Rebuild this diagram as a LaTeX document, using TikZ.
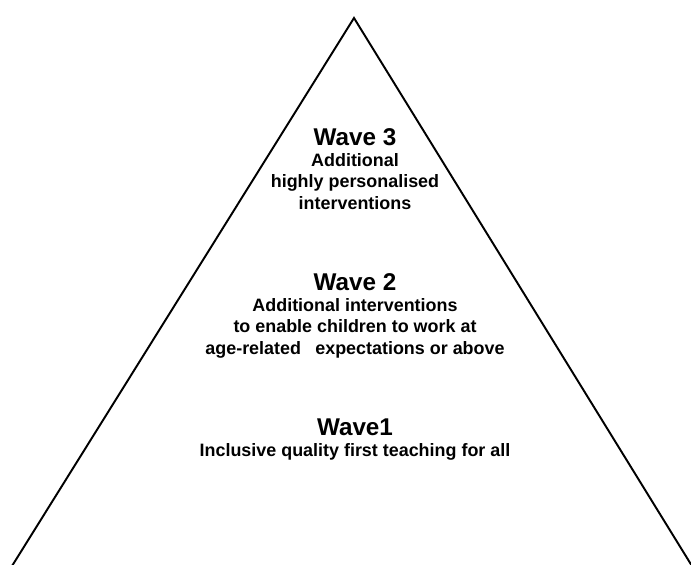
\documentclass[tikz,border=0pt]{standalone}
\usepackage{fontspec}
\setmainfont{Liberation Sans}
\usetikzlibrary{positioning}

\begin{document}
\begin{tikzpicture}[
    x=0.02cm, y=-0.02cm,
    node distance=4.4pt,
    head/.style={inner sep=0pt, font=\bfseries\fontsize{13.8}{16}\selectfont},
    body/.style={inner sep=0pt, align=center, font=\bfseries\fontsize{10.2}{12.1}\selectfont}
]
    \useasboundingbox (0,0) rectangle (691,565);

    % The pyramid (no base line)
    \coordinate (apex) at (354,18);
    \coordinate (baseL) at (12,566);
    \coordinate (baseR) at (692,566);
    \draw[line width=1.1pt, line join=miter] (baseL) -- (apex) -- (baseR);

    % Wave 3
    \node[head, anchor=base] (w3) at (355,145) {Wave 3};
    \node[body, below=of w3] (w3txt) {Additional\\ highly personalised\\ interventions};

    % Wave 2
    \node[head, anchor=base] (w2) at (355,290) {Wave 2};
    \node[body, below=of w2] (w2txt) {Additional interventions\\ to enable children to work at\\ age-related\hspace{0.8em}expectations or above};

    % Wave 1
    \node[head, anchor=base] (w1) at (355,435) {Wave1};
    \node[body, below=of w1] (w1txt) {Inclusive quality first teaching for all};
\end{tikzpicture}
\end{document}
